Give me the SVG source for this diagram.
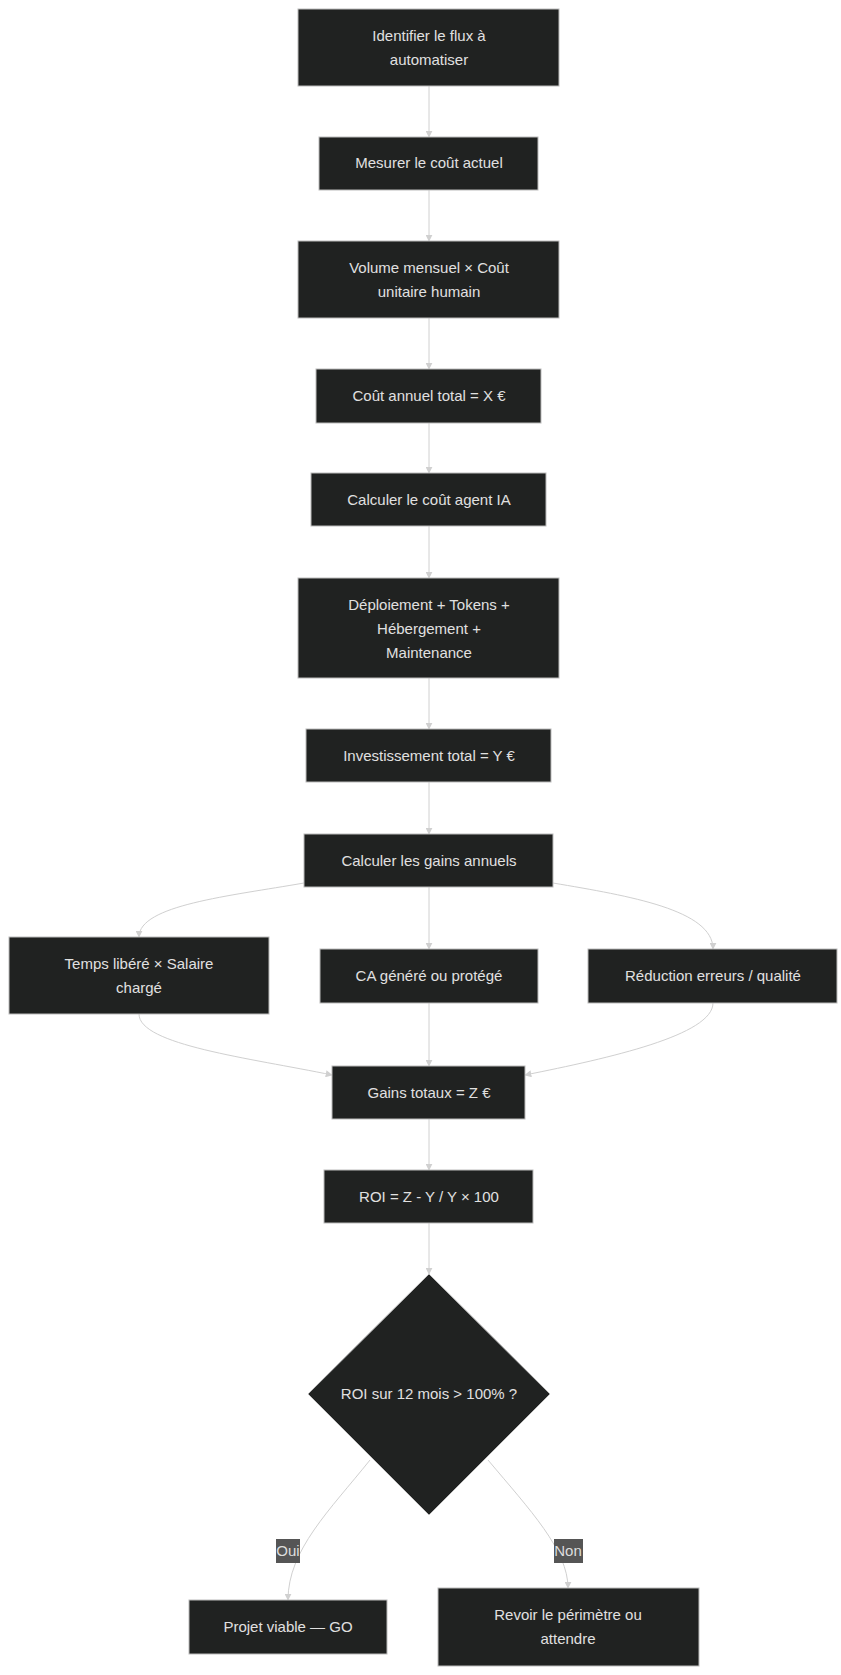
<svg xmlns="http://www.w3.org/2000/svg" width="841" height="1675" viewBox="0 0 841 1675">
<style>
.n rect,.n polygon{fill:#202221;stroke:#bbbbbb;stroke-width:1}
.n text{fill:#e0e0e0;font-family:"Liberation Sans",Arial,sans-serif;font-size:15px;text-anchor:middle}
.e path{fill:none;stroke:#d0d0d0;stroke-width:1;marker-end:url(#a)}
.l rect{fill:#555}
.l text{fill:#dddddd;font-family:"Liberation Sans",Arial,sans-serif;font-size:15px;text-anchor:middle}
</style>
<defs><marker id="a" viewBox="0 0 10 10" refX="9" refY="5" markerWidth="7" markerHeight="7" orient="auto"><path d="M0,0L10,5L0,10z" fill="#d0d0d0"/></marker></defs>
<rect width="841" height="1675" fill="#ffffff"/>
<g class="e">
<path d="M429,86V137"/><path d="M429,190V241"/><path d="M429,318V369"/><path d="M429,423V473"/><path d="M429,526V578"/><path d="M429,678V729"/><path d="M429,782V834"/>
<path d="M304,883C230,896 139,905 139,937"/>
<path d="M429,887V949"/>
<path d="M553,883C630,896 713,910 713,949"/>
<path d="M139,1014C139,1045 250,1058 332,1075"/>
<path d="M429,1003V1066"/>
<path d="M713,1003C713,1035 610,1058 525,1075"/>
<path d="M429,1119V1170"/>
<path d="M429,1223V1274"/>
<path d="M370,1460C330,1510 288,1550 288,1600"/>
<path d="M488,1460C530,1510 568,1550 568,1588"/>
</g>
<g class="l">
<rect x="276" y="1539" width="24" height="24"/><text x="288" y="1556">Oui</text>
<rect x="554" y="1539" width="29" height="24"/><text x="568" y="1556">Non</text>
</g>
<g id="n1" class="n"><rect x="298" y="9" width="261" height="77"/><text x="429" y="41">Identifier le flux à</text><text x="429" y="65">automatiser</text></g>
<g id="n2" class="n"><rect x="319" y="137" width="219" height="53"/><text x="429" y="168">Mesurer le coût actuel</text></g>
<g id="n3" class="n"><rect x="298" y="241" width="261" height="77"/><text x="429" y="273">Volume mensuel × Coût</text><text x="429" y="297">unitaire humain</text></g>
<g id="n4" class="n"><rect x="316" y="369" width="225" height="54"/><text x="429" y="401">Coût annuel total = X €</text></g>
<g id="n5" class="n"><rect x="311" y="473" width="235" height="53"/><text x="429" y="505">Calculer le coût agent IA</text></g>
<g id="n6" class="n"><rect x="298" y="578" width="261" height="100"/><text x="429" y="610">Déploiement + Tokens +</text><text x="429" y="634">Hébergement +</text><text x="429" y="658">Maintenance</text></g>
<g id="n7" class="n"><rect x="306" y="729" width="245" height="53"/><text x="429" y="761">Investissement total = Y €</text></g>
<g id="n8" class="n"><rect x="304" y="834" width="249" height="53"/><text x="429" y="866">Calculer les gains annuels</text></g>
<g id="n9" class="n"><rect x="9" y="937" width="260" height="77"/><text x="139" y="969">Temps libéré × Salaire</text><text x="139" y="993">chargé</text></g>
<g id="n10" class="n"><rect x="320" y="949" width="218" height="54"/><text x="429" y="981">CA généré ou protégé</text></g>
<g id="n11" class="n"><rect x="588" y="949" width="249" height="54"/><text x="713" y="981">Réduction erreurs / qualité</text></g>
<g id="n12" class="n"><rect x="332" y="1066" width="193" height="53"/><text x="429" y="1098">Gains totaux = Z €</text></g>
<g id="n13" class="n"><rect x="324" y="1170" width="209" height="53"/><text x="429" y="1202">ROI = Z - Y / Y × 100</text></g>
<g id="n14" class="n"><polygon points="429,1274 550,1394 429,1515 308,1394"/><text x="429" y="1399">ROI sur 12 mois &gt; 100% ?</text></g>
<g id="n15" class="n"><rect x="189" y="1600" width="198" height="54"/><text x="288" y="1632">Projet viable — GO</text></g>
<g id="n16" class="n"><rect x="438" y="1588" width="261" height="78"/><text x="568" y="1620">Revoir le périmètre ou</text><text x="568" y="1644">attendre</text></g>
</svg>
